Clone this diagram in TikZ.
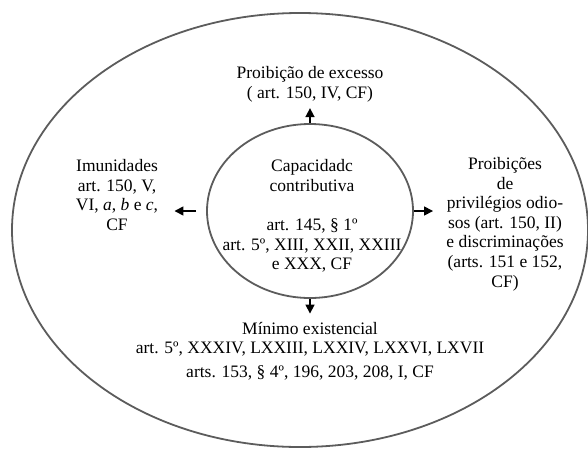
\documentclass[tikz,border=0pt]{standalone}
\usepackage{fontspec}
\setmainfont{Liberation Serif}
\usetikzlibrary{arrows.meta,calc,shapes.geometric}
\definecolor{RingClr}{rgb}{0.36,0.36,0.36}

\begin{document}
\begin{tikzpicture}[x=0.5pt,y=-0.5pt,
  font=\fontsize{8.75}{9.8}\selectfont,
  txt/.style={align=center,inner sep=0pt},
  ring/.style={draw=RingClr,line width=0.9pt},
  arr/.style={line width=0.8pt,-{Triangle[length=4.5pt,width=4.5pt]}}]
\useasboundingbox (0,0) rectangle (588,450);

\draw[ring] (300,230) ellipse [x radius=144pt,y radius=108.5pt];
\node[ring,ellipse,minimum width=103pt,minimum height=87pt] (cap) at (310,211) {};

\node[txt] (captxt) at (312,216) {Capacidadc\\contributiva\\[9.8pt]art. 145, \S\ 1º\\art. 5º, XIII, XXII, XXIII\\e XXX, CF};
\node[txt] (excesso) at (310,84) {Proibição de excesso\\( art. 150, IV, CF)};
\node[txt] (imun) at (117,195) {Imunidades\\art. 150, V,\\VI, \textit{a}, \textit{b} e \textit{c},\\CF};
\node[txt] (prib) at (505,224) {Proibições\\de\\privilégios odio-\\sos (art. 150, II)\\e discriminações\\(arts. 151 e 152,\\CF)};
\node[txt] (minimo) at (310,351) {Mínimo existencial\\art. 5º, XXXIV, LXXIII, LXXIV, LXXVI, LXVII\\[2pt]arts. 153, \S\ 4º, 196, 203, 208, I, CF};

\draw[arr,shorten >=3pt] (cap.north) -- (cap.north |- excesso.south);
\draw[arr,shorten <=5pt,shorten >=8pt] (cap.west) -- (cap.west -| imun.east);
\draw[arr,shorten >=6.5pt] (cap.east) -- (cap.east -| prib.west);
\draw[arr,shorten >=4pt] (cap.south) -- (cap.south |- minimo.north);

\end{tikzpicture}
\end{document}
